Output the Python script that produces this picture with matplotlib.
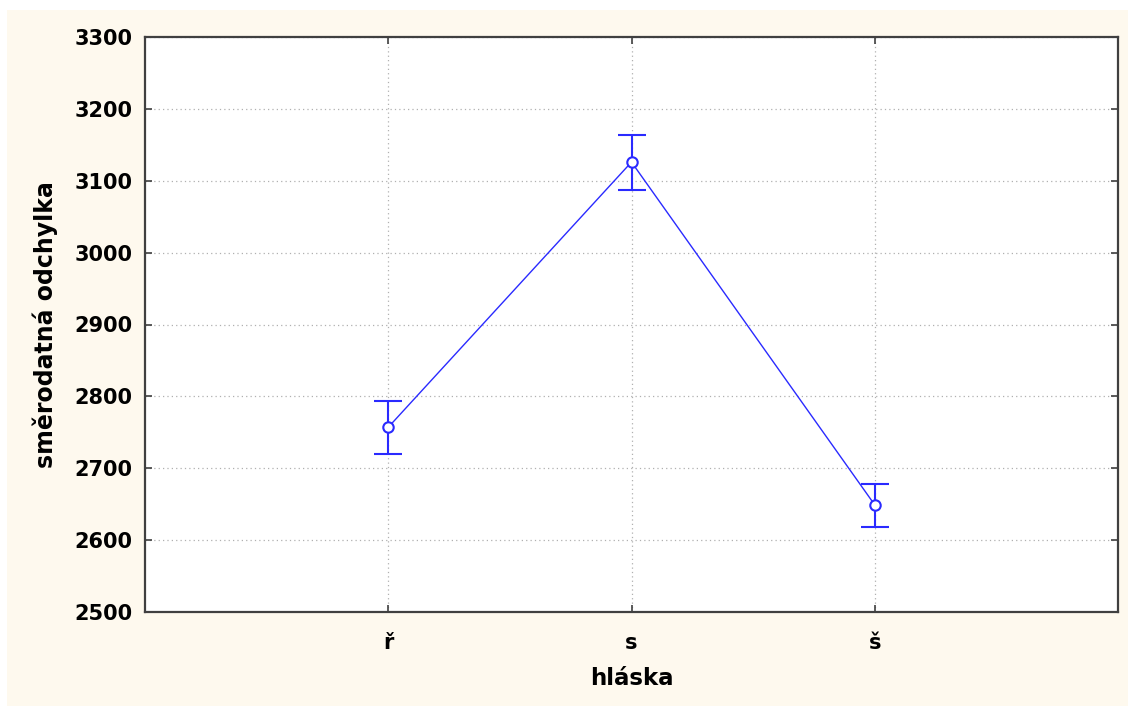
import matplotlib
matplotlib.use("Agg")
import matplotlib.pyplot as plt
from matplotlib.patches import Rectangle

categories = ["ř", "s", "š"]
means = [2757, 3126, 2649]
upper = [2793, 3164, 2678]
lower = [2720, 3087, 2618]
yticks = [2500, 2600, 2700, 2800, 2900, 3000, 3100, 3200, 3300]

plt.rcParams['font.family'] = ['DejaVu Sans']

fig = plt.figure(figsize=(11.28, 7.06), dpi=100)
fig.patch.set_facecolor('white')
fig.patches.append(Rectangle((7/1128, 0), 1 - 7/1128, 1 - 10/706, transform=fig.transFigure,
                             facecolor='#FEF9EE', edgecolor='none', zorder=-10))

ax = fig.add_axes([145/1128, 94/706, 973/1128, 575/706])
ax.set_facecolor('white')

x = list(range(len(categories)))
yerr = [[m - l for m, l in zip(means, lower)], [u - m for u, m in zip(upper, means)]]
ax.errorbar(x, means, yerr=yerr, color='#2A2AFF', lw=1.0, elinewidth=1.5, capsize=10, capthick=1.5,
            marker='o', markersize=7.5, markerfacecolor='white', markeredgecolor='#2A2AFF',
            markeredgewidth=1.5, zorder=3)

ax.set_xlim(-1, 3)
ax.set_ylim(2500, 3300)
ax.set_xticks(x)
ax.set_xticklabels(categories)
ax.set_yticks(yticks)
ax.grid(True, color='#B0B0B0', linestyle=(0, (1, 2.5)), linewidth=0.9)
ax.set_axisbelow(True)
for s in ax.spines.values():
    s.set_color('#404040')
    s.set_linewidth(1.6)
ax.tick_params(direction='in', length=5, width=1.2, color='#404040', top=True, right=True,
               labelsize=15)
ax.tick_params(axis='y', pad=9)
ax.tick_params(axis='x', pad=15)
for lab in ax.get_xticklabels() + ax.get_yticklabels():
    lab.set_fontweight('bold')
ax.set_xlabel("hláska", fontsize=16.5, fontweight='bold', labelpad=10)
ax.set_ylabel("směrodatná odchylka", fontsize=17, fontweight='bold', labelpad=12)

fig.savefig("out.png", dpi=100)
